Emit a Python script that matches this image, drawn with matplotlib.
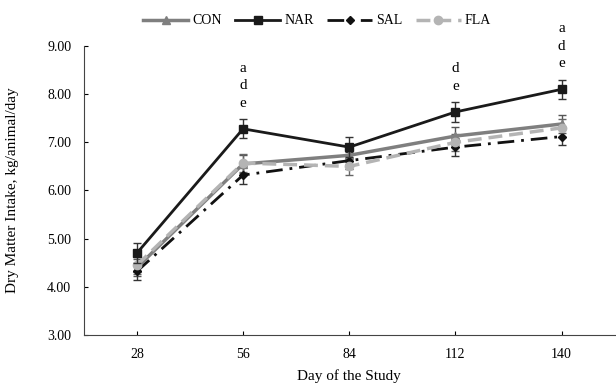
import matplotlib
matplotlib.use("Agg")
from matplotlib import pyplot as plt
from matplotlib.lines import Line2D

## Data ##
days = ["28", "56", "84", "112", "140"]

CON = [4.40, 6.55, 6.73, 7.13, 7.38]
NAR = [4.70, 7.28, 6.90, 7.63, 8.10]
SAL = [4.32, 6.32, 6.62, 6.90, 7.12]
FLA = [4.45, 6.57, 6.50, 7.00, 7.30]

CON_err = [0.18, 0.18, 0.18, 0.18, 0.18]
NAR_err = [0.20, 0.20, 0.20, 0.20, 0.20]
SAL_err = [0.18, 0.18, 0.18, 0.18, 0.18]
FLA_err = [0.18, 0.18, 0.18, 0.18, 0.18]

sig_labels = ["", "a\nd\ne", "", "d\ne", "a\nd\ne"]

## Style ##
plt.rcParams["font.family"] = ["Liberation Serif", "DejaVu Serif"]
plt.rcParams["font.size"] = 10

fig = plt.figure(figsize=(6.16, 3.86), dpi=100)
ax = fig.add_axes([0.136, 0.132, 0.862, 0.749])

x = list(range(len(days)))

series = [
    ("CON", CON, CON_err, dict(color="#7f7f7f", lw=2.5, marker="^", ms=6, linestyle="-"), "#555555"),
    ("NAR", NAR, NAR_err, dict(color="#1a1a1a", lw=2.0, marker="s", ms=6, linestyle="-"), "#333333"),
    ("SAL", SAL, SAL_err, dict(color="#111111", lw=2.0, marker="D", ms=4,
                               linestyle=(0, (6, 2.5, 1, 2.5))), "#333333"),
    ("FLA", FLA, FLA_err, dict(color="#b4b4b4", lw=2.5, marker="o", ms=6,
                               linestyle=(0, (4, 2))), "#666666"),
]

handles = []
for name, vals, err, style, ecol in series:
    ax.errorbar(x, vals, yerr=err, capsize=3, elinewidth=1, ecolor=ecol,
                zorder=4 if name == "NAR" else 3, **style)
    handles.append(Line2D([], [], label=name, **style))

# significance letters above NAR
for i, lab in enumerate(sig_labels):
    if lab:
        ax.text(x[i], NAR[i] + NAR_err[i] + 0.2, lab, ha="center", va="bottom",
                fontsize=11, linespacing=1.45)

ax.set_xlim(-0.5, len(days) - 0.5)
ax.set_ylim(3.0, 9.0)
ax.set_xticks(x)
ax.set_xticklabels(days)
ax.set_yticks([3, 4, 5, 6, 7, 8, 9])
ax.set_yticklabels([f"{v:.2f}" for v in [3, 4, 5, 6, 7, 8, 9]])
ax.tick_params(axis="x", direction="in", length=3, pad=9)
ax.tick_params(axis="y", direction="in", length=3, pad=9)

ax.spines["top"].set_visible(False)
ax.spines["right"].set_visible(False)
ax.spines["left"].set_color("#444444")
ax.spines["bottom"].set_color("#444444")

ax.set_xlabel("Day of the Study", fontsize=11, labelpad=6)
ax.set_ylabel("Dry Matter Intake, kg/animal/day", fontsize=11, labelpad=20)

fig.legend(handles=handles, loc="upper center", bbox_to_anchor=(0.515, 0.995),
           ncol=4, frameon=False, fontsize=10, handlelength=3.2,
           columnspacing=1.0, handletextpad=0.3)

plt.savefig("out.png", dpi=100)
plt.close()
